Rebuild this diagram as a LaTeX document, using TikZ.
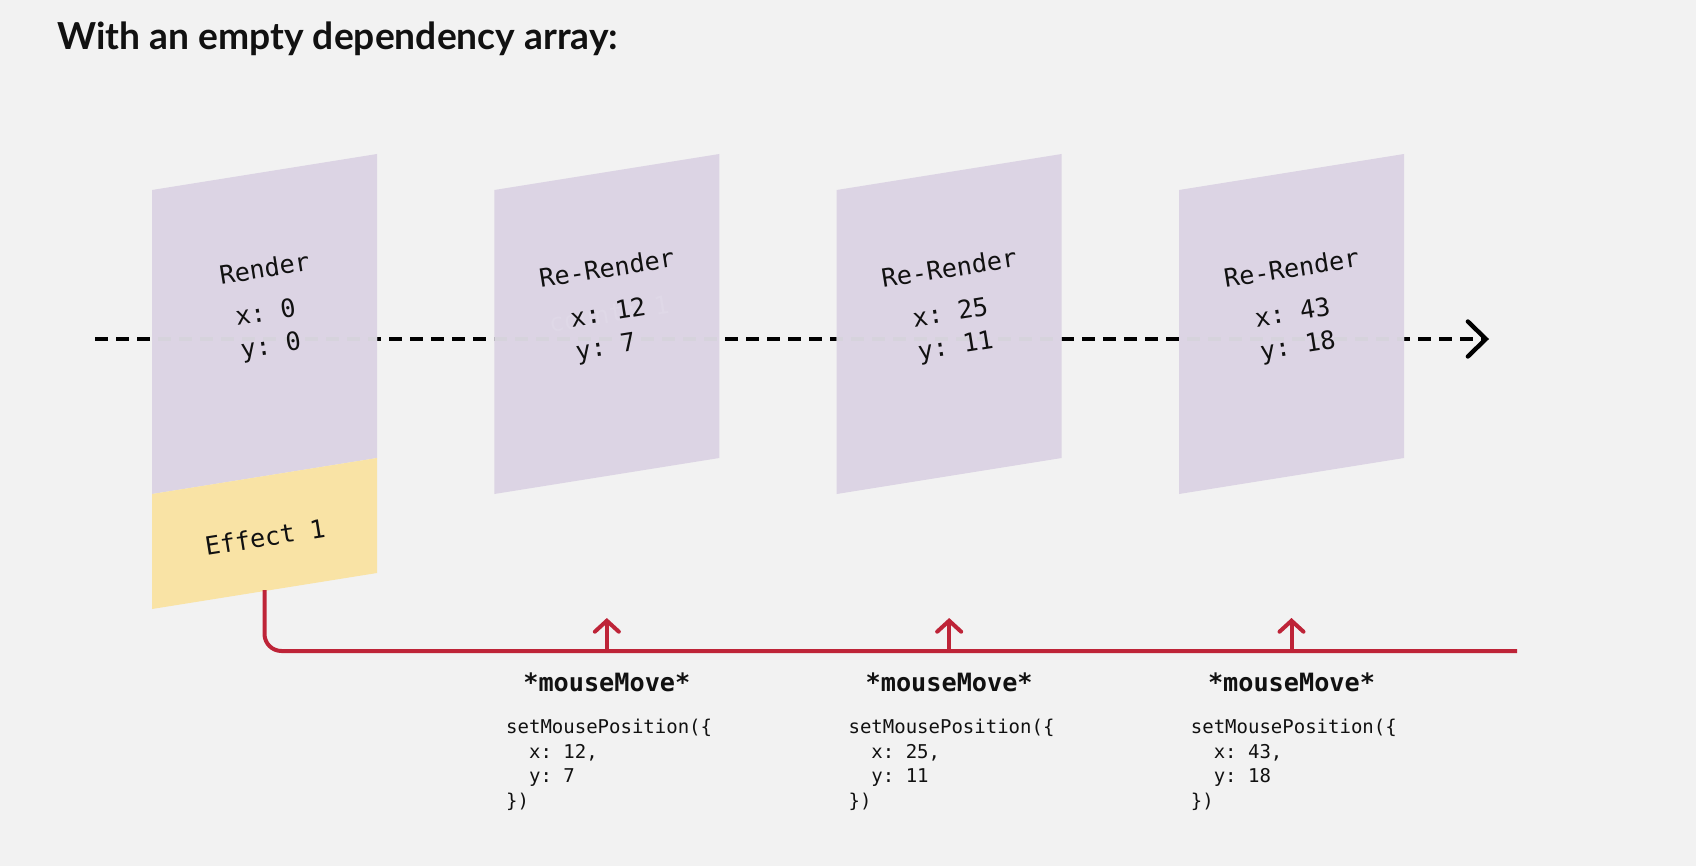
\documentclass[tikz,border=0pt]{standalone}
\usepackage{fontspec}
\setmainfont{Lato}
\setmonofont{DejaVu Sans Mono}
\usepackage{tikz}
\usetikzlibrary{arrows.meta}

\definecolor{bg}{HTML}{F2F2F2}
\definecolor{panel}{HTML}{DCD4E4}
\definecolor{effect}{HTML}{F9E3A5}
\definecolor{signal}{HTML}{BE2438}
\definecolor{ink}{HTML}{111111}
\definecolor{dashlight}{HTML}{D6D3DC}

\tikzset{
  titletext/.style={font=\bfseries\fontsize{18.6}{21}\selectfont, text=ink, inner sep=0pt},
  paneltext/.style={font=\ttfamily\fontsize{12.6}{16.7}\selectfont, text=ink, rotate=9, inner sep=0pt},
  eventtext/.style={font=\ttfamily\bfseries\fontsize{12.6}{15}\selectfont, text=ink, inner sep=0pt},
  codetext/.style={font=\ttfamily\fontsize{9.5}{12.25}\selectfont, text=ink, inner sep=0pt, align=left},
  timeline/.style={line width=2.2pt, dash pattern=on 6.5pt off 4pt},
  signal line/.style={draw=signal, line width=2pt, rounded corners=8.5pt},
  signal arrow/.style={draw=signal, line width=2pt, -{Straight Barb[length=5.5pt, width=12pt, line cap=round]}}
}

\begin{document}
\begin{tikzpicture}[x=0.5pt, y=-0.5pt]
  \fill[bg] (0,0) rectangle (1696,866);
  \node[titletext, anchor=base west] (title) at (57,50) {With an empty dependency array:};

  \coordinate (t0) at (95,339);
  \coordinate (t1) at (1489,339);
  \draw[timeline, -{Straight Barb[length=9pt, width=17.5pt, line cap=round]}] (t0) -- (t1);

  \foreach \i in {0,...,3}
    {\fill[panel] ({152+342.33*\i},190) -- ++(225,-36) -- ++(0,304) -- ++(-225,36) -- cycle;}
  \fill[effect] (152,494) -- (377,458) -- (377,573) -- (152,609) -- cycle;

  \begin{scope}
    \clip \foreach \i in {0,...,3} {({152+342.33*\i},300) rectangle ++(225,80)};
    \draw[timeline, draw=dashlight] (t0) -- (t1);
  \end{scope}

  \node[paneltext, text=panel!90!white] (ghost) at (609,314) {count: 1};

  \foreach \i/\name/\xv/\yv in {0/Render/0/0, 1/Re-Render/12/7, 2/Re-Render/25/11, 3/Re-Render/43/18}
    {\node[paneltext] (r\i) at ({264.5+342.33*\i},268) {\name};
     \node[paneltext, align=left] (v\i) at ({268.5+342.33*\i},331) {x: \xv\\y: \yv};}
  \node[paneltext] (eff) at (265,537) {Effect 1};

  \coordinate (effbot) at (264.5,590);
  \coordinate (sigend) at (1517,651);
  \draw[signal line] (effbot) |- (sigend);

  \foreach \i/\xv/\yv in {1/12/7, 2/25/11, 3/43/18}
    {\coordinate (s\i) at ({264.5+342.33*\i},651);
     \coordinate (a\i) at ({264.5+342.33*\i},618);
     \draw[signal arrow] (s\i) -- (a\i);
     \node[eventtext] (mm\i) at ({264.5+342.33*\i},682) {*mouseMove*};
     \node[codetext, anchor=north west] (code\i) at ({163.5+342.33*\i},719)
       {setMousePosition(\{\\\hphantom{xx}x: \xv,\\\hphantom{xx}y: \yv\\\})};}
\end{tikzpicture}
\end{document}
